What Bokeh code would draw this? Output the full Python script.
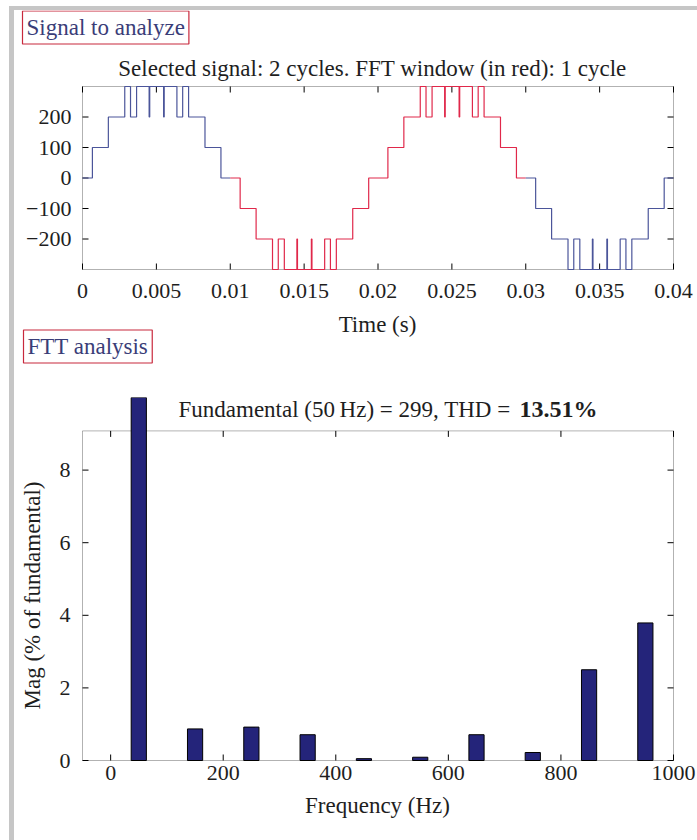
import math
from bokeh.plotting import figure
from bokeh.models import Range1d, Label, Div, BoxAnnotation
from bokeh.core.properties import value
from bokeh.layouts import column, row
from bokeh.embed import file_html
from bokeh.resources import INLINE

# ---------------- data ----------------
# switching instants (s) of the 7-level staircase signal and the level reached at each
switch_times = [
    0.00067, 0.00175, 0.00286, 0.00325, 0.00366, 0.00451, 0.00455, 0.00549, 0.00553,
    0.00639, 0.00678, 0.00718, 0.00829, 0.00937,
    0.01067, 0.01175, 0.01286, 0.01325, 0.01366, 0.01451, 0.01455, 0.01549, 0.01553,
    0.01639, 0.01678, 0.01718, 0.01829, 0.01937,
    0.02067, 0.02175, 0.02286, 0.02325, 0.02366, 0.02451, 0.02455, 0.02549, 0.02553,
    0.02639, 0.02678, 0.02718, 0.02829, 0.02937,
    0.03067, 0.03175, 0.03286, 0.03325, 0.03366, 0.03451, 0.03455, 0.03549, 0.03553,
    0.03639, 0.03678, 0.03718, 0.03829, 0.03937,
]
switch_levels = [
    100, 200, 300, 200, 300, 200, 300, 200, 300, 200, 300, 200, 100, 0,
    -100, -200, -300, -200, -300, -200, -300, -200, -300, -200, -300, -200, -100, 0,
    100, 200, 300, 200, 300, 200, 300, 200, 300, 200, 300, 200, 100, 0,
    -100, -200, -300, -200, -300, -200, -300, -200, -300, -200, -300, -200, -100, 0,
]
signal_start, signal_end = 0.0, 0.04
signal_min, signal_max = -300, 300
start_level = 0
fft_window = (0.01, 0.03)

harmonic_freqs = [50, 150, 250, 350, 450, 550, 650, 750, 850, 950]
harmonic_mags = [100, 0.87, 0.92, 0.71, 0.05, 0.09, 0.71, 0.22, 2.50, 3.79]
freq_min, freq_max = -50, 1000
mag_box_top = 9.08
mag_view_top = 10.0

time_ticks = [0, 0.005, 0.01, 0.015, 0.02, 0.025, 0.03, 0.035, 0.04]
signal_ticks = [-200, -100, 0, 100, 200]
freq_ticks = [0, 200, 400, 600, 800, 1000]
mag_ticks = [0, 2, 4, 6, 8]

title_top = "Selected signal: 2 cycles. FFT window (in red): 1 cycle"
panel_top = "Signal to analyze"
time_label = "Time (s)"
panel_bottom = "FTT analysis"
title_bottom = "Fundamental (50\u2009Hz) = 299, THD = "
title_bottom_bold = "13.51%"
freq_label = "Frequency (Hz)"
mag_label = "Mag (% of fundamental)"

# ---------------- style ----------------
FONT = "Liberation Serif"
TXT = "#1e1e1e"
BOX_TXT = "#3a3d78"
BOX_RED = "#c8283c"
BLUE = "#4b559a"
RED = "#e0284a"
BAR = "#24247a"
GRAY = "#c6c6c6"
TICK_FS = "22px"
TEXT_FS = "23px"
TICK_LEN = 6
W = 683
PAGE_L = 14


def level_at(t):
    lvl = start_level
    for s, l in zip(switch_times, switch_levels):
        if s <= t:
            lvl = l
    return lvl


def piece(a, b):
    xs, ys = [a], [level_at(a)]
    for s, l in zip(switch_times, switch_levels):
        if a < s < b:
            xs.append(s)
            ys.append(l)
    xs.append(b)
    ys.append(ys[-1])
    return xs, ys


def boxed_axes(p, x0, x1, y0, y1, xt, yt, dx, dy):
    """Axes box with inward ticks on all four sides (drawn in data space)."""
    p.add_layout(BoxAnnotation(left=x0, right=x1, bottom=y0, top=y1, fill_alpha=0,
                               line_color="black", line_width=1, level="underlay"))
    nx, ny = len(xt), len(yt)
    p.segment(x0=xt, y0=[y0] * nx, x1=xt, y1=[y0 + TICK_LEN * dy] * nx, line_color="black")
    p.segment(x0=xt, y0=[y1] * nx, x1=xt, y1=[y1 - TICK_LEN * dy] * nx, line_color="black")
    p.segment(x0=[x0] * ny, y0=yt, x1=[x0 + TICK_LEN * dx] * ny, y1=yt, line_color="black")
    p.segment(x0=[x1] * ny, y0=yt, x1=[x1 - TICK_LEN * dx] * ny, y1=yt, line_color="black")


def tick_text(p, xs, ys, texts, align):
    p.text(x=xs, y=ys, text=texts, text_align=align, text_baseline="middle",
           text_font=value(FONT), text_font_size=TICK_FS, text_color=TXT)


def label(p, x, y, text, size=TEXT_FS, color=TXT, align="center", boxed=False, **kw):
    extra = {}
    if boxed:
        extra = dict(border_line_color=BOX_RED, border_line_width=1.2,
                     background_fill_color="white", padding=4)
    p.add_layout(Label(x=x, y=y, text=text, text_align=align, text_baseline="middle",
                       text_font=FONT, text_font_size=size, text_color=color, **extra, **kw))


def new_fig(h, xr, yr, top_border):
    p = figure(width=W, height=h, output_backend="svg", toolbar_location=None,
               x_range=xr, y_range=yr, x_axis_type=None, y_axis_type=None,
               min_border_left=0, min_border_right=0, min_border_bottom=0,
               min_border_top=top_border)
    p.outline_line_color = None
    p.background_fill_color = "white"
    p.border_fill_color = "white"
    p.xgrid.visible = False
    p.ygrid.visible = False
    return p


# ---------------- top plot (whole canvas is the data frame) ----------------
F1_L, F1_R, F1_T, F1_B = 82, 673, 86, 269       # page pixels of the boxed axes
P1_TOP, P1_H = 10, 360
dx1 = (signal_end - signal_start) / (F1_R - F1_L)
dy1 = (signal_max - signal_min) / (F1_B - F1_T)

p1 = new_fig(P1_H,
             Range1d(signal_start - (F1_L - PAGE_L) * dx1, signal_end + (PAGE_L + W - F1_R) * dx1),
             Range1d(signal_min - (P1_TOP + P1_H - F1_B) * dy1, signal_max + (F1_T - P1_TOP) * dy1),
             0)


def p1x(px):
    return signal_start + (px - F1_L) * dx1


def p1y(py):
    return signal_max - (py - F1_T) * dy1


boxed_axes(p1, signal_start, signal_end, signal_min, signal_max, time_ticks, signal_ticks,
           dx1, dy1)
tick_text(p1, time_ticks, [p1y(290)] * len(time_ticks), [f"{t:g}" for t in time_ticks],
          "center")
tick_text(p1, [p1x(71)] * len(signal_ticks), signal_ticks,
          [f"{v:g}".replace("-", "\u2212") for v in signal_ticks], "right")

for a, b, col in [(signal_start, fft_window[0], BLUE), (fft_window[0], fft_window[1], RED),
                  (fft_window[1], signal_end, BLUE)]:
    xs, ys = piece(a, b)
    p1.step(xs, ys, mode="after", line_color=col, line_width=1.2)

label(p1, p1x(377), p1y(324), time_label)
label(p1, p1x(372), p1y(68), title_top)
label(p1, p1x(22), p1y(27), panel_top, color=BOX_TXT, align="left", boxed=True)
label(p1, p1x(23), p1y(346), panel_bottom, color=BOX_TXT, align="left", boxed=True)

# ---------------- bottom plot ----------------
F2_L, F2_R, F2_B = 82, 673, 760
P2_TOP, P2_H = 370, 470
F2_VIEW_T = 397                     # bars are clipped here (above the drawn box)
dx2 = (freq_max - freq_min) / (F2_R - F2_L)
dy2 = mag_view_top / (F2_B - F2_VIEW_T)

p2 = new_fig(P2_H,
             Range1d(freq_min - (F2_L - PAGE_L) * dx2, freq_max + (PAGE_L + W - F2_R) * dx2),
             Range1d(0 - (P2_TOP + P2_H - F2_B) * dy2, mag_view_top),
             F2_VIEW_T - P2_TOP)


def p2x(px):
    return freq_min + (px - F2_L) * dx2


def p2y(py):
    return (F2_B - py) * dy2


boxed_axes(p2, freq_min, freq_max, 0, mag_box_top, freq_ticks, mag_ticks, dx2, dy2)
tick_text(p2, freq_ticks, [p2y(772)] * len(freq_ticks), [f"{f:g}" for f in freq_ticks],
          "center")
tick_text(p2, [p2x(70)] * len(mag_ticks), mag_ticks, [f"{m:g}" for m in mag_ticks], "right")

p2.vbar(x=harmonic_freqs, top=harmonic_mags, bottom=0, width=27, fill_color=BAR,
        line_color="black", line_width=1)

label(p2, p2x(377), p2y(805), freq_label)
label(p2, p2x(32), p2y(595), mag_label, angle=math.pi / 2)
label(p2, p2x(178), p2y(409), title_bottom, align="left")
label(p2, p2x(519), p2y(408), title_bottom_bold, size="24px", align="left",
      text_font_style="bold")

# ---------------- page frame ----------------
top_white = Div(width=697, height=6, margin=0)
left_white = Div(width=9, height=834, margin=0)
left_band = Div(width=5, height=834, margin=0, styles={"background-color": GRAY})
top_band = Div(width=W, height=4, margin=0, styles={"background-color": GRAY})
layout = column(top_white,
                row(left_white, left_band, column(top_band, p1, p2, spacing=0), spacing=0),
                spacing=0)

open("out.html", "w").write(file_html(layout, INLINE))
